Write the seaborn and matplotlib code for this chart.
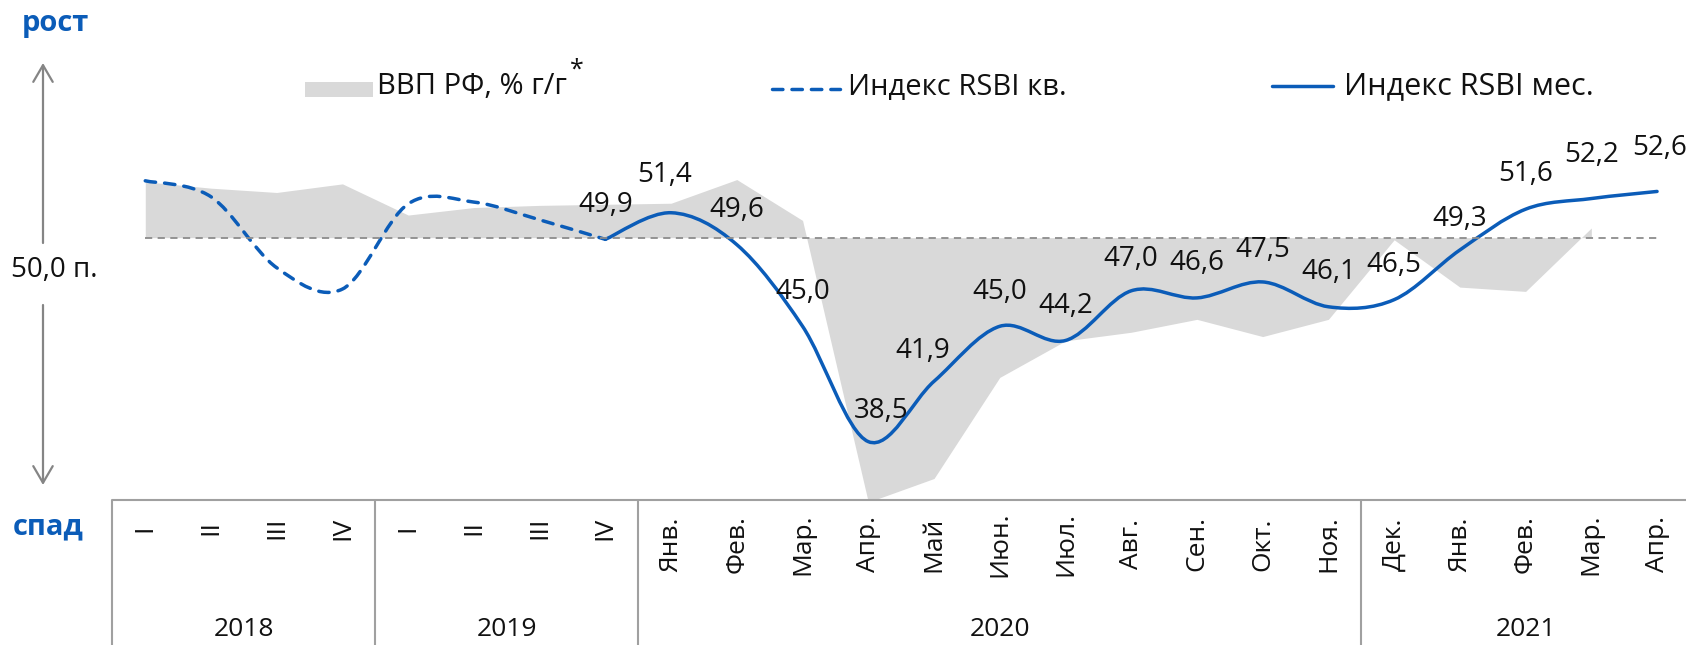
import numpy as np
import seaborn as sns
import matplotlib.pyplot as plt
from matplotlib.path import Path
from matplotlib.patches import PathPatch, Rectangle, FancyArrowPatch
from matplotlib.lines import Line2D

# 8 quarters (2018-2019), then months Jan 2020 - Apr 2021
period_labels = ['I', 'II', 'III', 'IV', 'I', 'II', 'III', 'IV',
                 'Янв.', 'Фев.', 'Мар.', 'Апр.', 'Май', 'Июн.', 'Июл.', 'Авг.',
                 'Сен.', 'Окт.', 'Ноя.', 'Дек.', 'Янв.', 'Фев.', 'Мар.', 'Апр.']
years = ['2018', '2019', '2020', '2021']
year_sizes = [4, 4, 11, 5]

# GDP, % y/y (grey area), up to Mar 2021
gdp = [2.6, 2.3, 2.1, 2.5, 1.05, 1.4, 1.5, 1.55,
       1.6, 2.7, 0.8, -12.3, -11.2, -6.5, -4.8, -4.4, -3.8, -4.6, -3.8,
       -0.1, -2.3, -2.5, 0.45]
# RSBI quarterly (dashed), 2018 I - 2019 IV
rsbi_q = [53.2, 52.3, 48.3, 47.1, 51.9, 52.0, 51.0, 49.9]
# RSBI monthly (solid), 2019 IV - Apr 2021
rsbi_m = [49.9, 51.4, 49.6, 45.0, 38.5, 41.9, 45.0, 44.2, 47.0, 46.6,
          47.5, 46.1, 46.5, 49.3, 51.6, 52.2, 52.6]

BLUE = '#0B5CB8'
GREY_FILL = '#D9D9D9'
LINE_GREY = '#A0A0A0'
TXT = '#111111'

W, H = 1686, 645


def smooth_path(x, y):
    # excel-like smoothed line: cubic bezier through every point
    x = np.asarray(x, float)
    y = np.asarray(y, float)
    n = len(x)
    verts = [(x[0], y[0])]
    codes = [Path.MOVETO]
    for i in range(n - 1):
        xp, yp = (x[i - 1], y[i - 1]) if i > 0 else (x[i], y[i])
        xn, yn = (x[i + 2], y[i + 2]) if i + 2 < n else (x[i + 1], y[i + 1])
        c1 = (x[i] + (x[i + 1] - xp) / 6, y[i] + (y[i + 1] - yp) / 6)
        c2 = (x[i + 1] - (xn - x[i]) / 6, y[i + 1] - (yn - y[i]) / 6)
        verts += [c1, c2, (x[i + 1], y[i + 1])]
        codes += [Path.CURVE4] * 3
    return Path(verts, codes)


def fmt(v):
    return '{:.1f}'.format(v).replace('.', ',')


sns.set_theme(style='white')
plt.rcParams['font.family'] = ['Open Sans', 'DejaVu Sans']

fig = plt.figure(figsize=(W / 100, H / 100), dpi=100)
left = 112.4 / W
plot_bottom = 145 / H
xlim = (-0.5, (W - 112.4) / 65.73 - 0.5)

# GDP axis (drawn first, behind)
ax = fig.add_axes([left, plot_bottom, 1 - left, 1 - plot_bottom])
ax.set_xlim(*xlim)
ax.set_ylim(-12.2, 11.05)
ax.fill_between(np.arange(len(gdp)), 0, gdp, color=GREY_FILL, lw=0)
ax.axis('off')

# RSBI axis
ax2 = ax.twinx()
ax2.set_xlim(*xlim)
ax2.set_ylim(35.21, 63.39)
ax2.axis('off')
ax2.hlines(50, 0, len(period_labels) - 1, colors='#8C8C8C', lw=1.3,
           linestyles=(0, (4, 3)))

xq = np.arange(len(rsbi_q))
xm = np.arange(len(rsbi_q) - 1, len(rsbi_q) - 1 + len(rsbi_m))
ax2.add_patch(PathPatch(smooth_path(xq, rsbi_q), fill=False, ec=BLUE, lw=2.5,
                        linestyle=(0, (3.0, 2.6)), capstyle='round'))
ax2.add_patch(PathPatch(smooth_path(xm, rsbi_m), fill=False, ec=BLUE, lw=2.5,
                        capstyle='round'))

# label offsets in points
offsets = {1: (-5, 27), 4: (9, 22), 5: (-8, 22), 8: (0, 23), 10: (0, 23),
           13: (0, 22), 15: (0, 31), 16: (2, 31)}
for i, (x, v) in enumerate(zip(xm, rsbi_m)):
    dx, dy = offsets.get(i, (0, 25))
    ax2.annotate(fmt(v), (x, v), xytext=(dx, dy), textcoords='offset points',
                 ha='center', va='center', fontsize=20, color=TXT)

# category table below
axt = fig.add_axes([left, 0, 1 - left, plot_bottom])
axt.set_xlim(*xlim)
axt.set_ylim(0, 1)
axt.axis('off')
axt.axhline(1, color=LINE_GREY, lw=1.5, clip_on=False)
bounds = np.cumsum([0] + year_sizes) - 0.5
axt.vlines(bounds[:-1], 0, 1, colors=LINE_GREY, lw=1.5, clip_on=False)
for i, lab in enumerate(period_labels):
    yy = 0.807 if i < 8 else 0.697
    axt.text(i, yy, lab, rotation=90, ha='center', va='center',
             fontsize=19, color=TXT)
for k, yr in enumerate(years):
    axt.text((bounds[k] + bounds[k + 1]) / 2, 0.11, yr, ha='center', va='center',
             fontsize=19, color=TXT)

# left side: growth / decline arrow
fig.text(55 / W, 1 - 23 / H, 'рост', ha='center', va='center', fontsize=21,
         fontweight='bold', color=BLUE)
fig.text(48 / W, 1 - 527 / H, 'спад', ha='center', va='center', fontsize=21,
         fontweight='bold', color=BLUE)
fig.text(11 / W, 1 - 270 / H, '50,0 п.', ha='left', va='center', fontsize=20,
         color=TXT)
arrow = dict(arrowstyle='->, head_length=0.6, head_width=0.35', color='#858585',
             lw=1.6, mutation_scale=20, shrinkA=0, shrinkB=0,
             transform=fig.transFigure)
fig.add_artist(FancyArrowPatch((43 / W, 1 - 243 / H), (43 / W, 1 - 63 / H), **arrow))
fig.add_artist(FancyArrowPatch((43 / W, 1 - 305 / H), (43 / W, 1 - 485 / H), **arrow))

# legend
fig.add_artist(Rectangle((305 / W, 1 - 97 / H), 68 / W, 15 / H,
                         transform=fig.transFigure, color=GREY_FILL, lw=0))
t = fig.text(377 / W, 1 - 87 / H, 'ВВП РФ, % г/г', ha='left', va='center',
             fontsize=21, color=TXT)
fig.canvas.draw()
bb = t.get_window_extent()
fig.text((bb.x1 + 3) / W, 1 - 70 / H, '*', ha='left', va='center',
         fontsize=18, color=TXT)
fig.add_artist(Line2D([772 / W, 840 / W], [1 - 89 / H] * 2, transform=fig.transFigure,
                      color=BLUE, lw=2.5, linestyle=(0, (3.0, 2.6)),
                      dash_capstyle='round'))
fig.text(848 / W, 1 - 88 / H, 'Индекс RSBI кв.', ha='left', va='center',
         fontsize=21, color=TXT)
fig.add_artist(Line2D([1272 / W, 1333 / W], [1 - 86 / H] * 2, transform=fig.transFigure,
                      color=BLUE, lw=2.5, solid_capstyle='round'))
fig.text(1344 / W, 1 - 86 / H, 'Индекс RSBI мес.', ha='left', va='center',
         fontsize=22, color=TXT)

fig.savefig('out.png', dpi=100)
